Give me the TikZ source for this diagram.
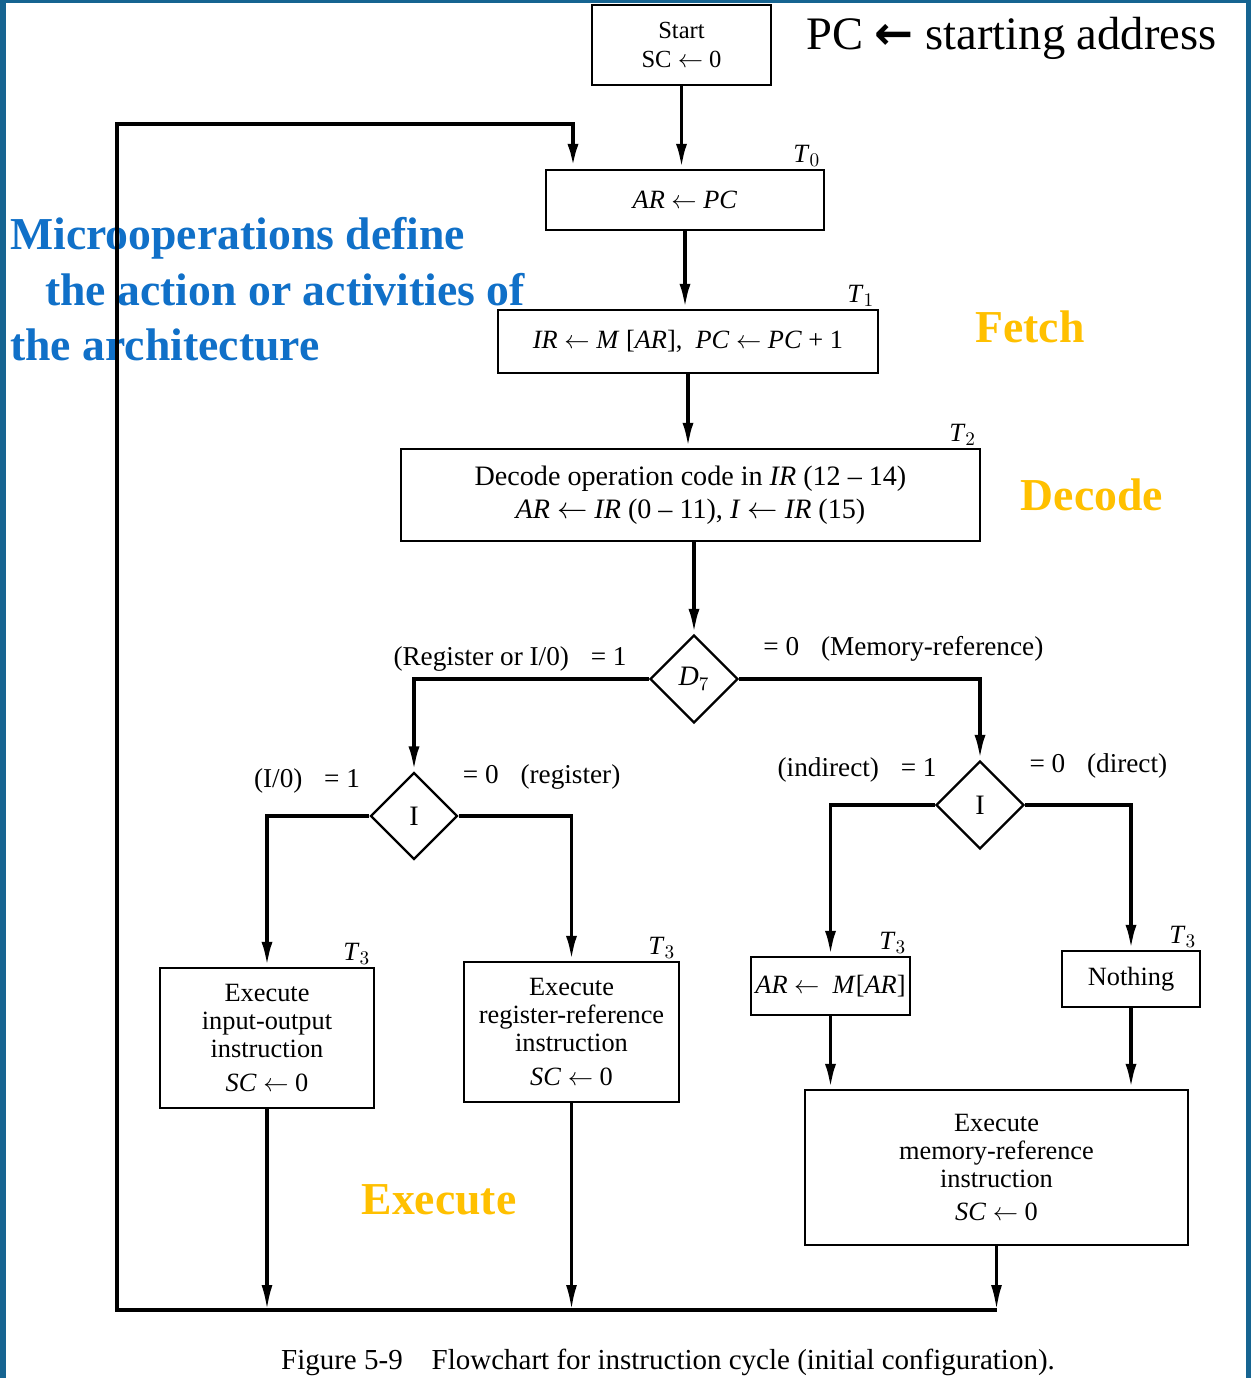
\documentclass[tikz,border=0pt]{standalone}
\usepackage{fontspec}
\setmainfont{Liberation Serif}
\newfontfamily\arrowfont{DejaVu Sans}
\usetikzlibrary{shapes.geometric, arrows.meta}
\definecolor{frameblue}{RGB}{22, 100, 145}
\definecolor{noteblue}{RGB}{16, 112, 200}
\definecolor{phasegold}{RGB}{255, 192, 0}
\newcommand{\asg}{\ensuremath{\leftarrow}}

\begin{document}
\begin{tikzpicture}[x=0.02cm, y=-0.02cm,
  box/.style={rectangle, draw, line width=1.3pt, align=center, inner sep=0pt, font=\fontsize{15}{16}\selectfont},
  decision/.style={diamond, draw, line width=1.3pt, inner sep=0pt, minimum size=1.76cm, font=\fontsize{16}{18}\selectfont},
  tlab/.style={font=\fontsize{15}{16}\selectfont, inner sep=1pt},
  brlab/.style={font=\fontsize{15.5}{18}\selectfont, inner sep=0pt},
  flow/.style={line width=2.2pt, -{Latex[length=0.5cm, width=0.22cm]}},
  phase/.style={font=\fontsize{26}{30}\selectfont\bfseries, text=phasegold, inner sep=0pt}]

% page and frame
\useasboundingbox (0,0) rectangle (1251,1378);
\fill[white] (0,0) rectangle (1251,1378);
\fill[frameblue] (0,0) rectangle (1251,3);
\fill[frameblue] (0,0) rectangle (6,1378);
\fill[frameblue] (1246,0) rectangle (1251,1378);

% notes
\node[anchor=north west, inner sep=0pt, align=left, text=noteblue, font=\fontsize{26}{31.7}\selectfont\bfseries] (note) at (10,217) {Microoperations define\\\hspace*{0.7cm}the action or activities of\\the architecture};
\node[anchor=base west, inner sep=0pt, font=\fontsize{26.5}{30}\selectfont] (pcnote) at (806,50) {PC {\arrowfont\bfseries ←} starting address};
\node[phase] (fetch) at (1030,327) {Fetch};
\node[phase] (decode) at (1092,495) {Decode};
\node[phase] (execute) at (439,1200) {Execute};

% fetch and decode
\node[box, minimum width=3.58cm, minimum height=1.6cm, font=\fontsize{14}{16.5}\selectfont] (start) at (681.5,45) {Start\\SC \asg{} 0};
\node[box, minimum width=5.56cm, minimum height=1.2cm] (pc) at (685,200) {\textit{AR} \asg{} \textit{PC}};
\node[box, minimum width=7.6cm, minimum height=1.26cm] (ir) at (688,341.5) {\textit{IR} \asg{} \textit{M} [\textit{AR}],\ \ \textit{PC} \asg{} \textit{PC} + 1};
\node[box, minimum width=11.58cm, minimum height=1.84cm, font=\fontsize{16}{19}\selectfont] (dec) at (690.5,495) {Decode operation code in \textit{IR} (12 – 14)\\\textit{AR} \asg{} \textit{IR} (0 – 11),\ \textit{I} \asg{} \textit{IR} (15)};

% decisions
\node[decision] (d7) at (694,679) {\textit{D}$_7$};
\node[decision, minimum size=1.74cm] (ireg) at (414,816) {I};
\node[decision] (imem) at (980,805) {I};

% execute
\node[box, minimum width=4.28cm, minimum height=2.8cm] (io) at (267,1038) {Execute\\input-output\\instruction\\[3pt]\textit{SC} \asg{} 0};
\node[box, minimum width=4.3cm, minimum height=2.8cm] (reg) at (571.5,1032) {Execute\\register-reference\\instruction\\[3pt]\textit{SC} \asg{} 0};
\node[box, minimum width=3.18cm, minimum height=1.16cm] (ind) at (830.5,986) {\textit{AR} \asg{}\ \ \textit{M}[\textit{AR}]};
\node[box, minimum width=2.76cm, minimum height=1.12cm] (nothing) at (1131,979) {Nothing};
\node[box, minimum width=7.66cm, minimum height=3.1cm] (mem) at (996.5,1167.5) {Execute\\memory-reference\\instruction\\[3pt]\textit{SC} \asg{} 0};

% timing signals
\foreach \boxname/\tnum/\lname in {pc/0/tzero, ir/1/tone, dec/2/ttwo, io/3/tio, reg/3/treg, ind/3/tind, nothing/3/tnot}
  \node[tlab, anchor=south east] (\lname) at ([xshift=-0.06cm]\boxname.north east) {\textit{T}$_{\tnum}$};

% branch labels
\node[brlab, anchor=south east] (lbliorg) at ([xshift=-0.44cm, yshift=0.14cm]d7.west) {(Register or I/0)\hspace{0.8em}= 1};
\node[brlab, anchor=south west] (lblmem) at ([xshift=0.48cm, yshift=0.34cm]d7.east) {= 0\hspace{0.8em}(Memory-reference)};
\node[brlab, anchor=south east] (lblio) at ([xshift=-0.18cm, yshift=0.44cm]ireg.west) {(I/0)\hspace{0.8em}= 1};
\node[brlab, anchor=south west] (lblreg) at ([xshift=0.08cm, yshift=0.52cm]ireg.east) {= 0\hspace{0.8em}(register)};
\node[brlab, anchor=south east] (lblind) at ([xshift=0.04cm, yshift=0.44cm]imem.west) {(indirect)\hspace{0.8em}= 1};
\node[brlab, anchor=south west] (lbldir) at ([xshift=0.08cm, yshift=0.52cm]imem.east) {= 0\hspace{0.8em}(direct)};

% connectors
\draw[flow] (start.south) -- (start.south |- pc.north);
\draw[flow] (pc.south) -- (pc.south |- ir.north);
\draw[flow] (ir.south) -- (ir.south |- dec.north);
\draw[flow] (d7.north |- dec.south) -- (d7.north);
\draw[flow] (d7.west) -| (ireg.north);
\draw[flow] (d7.east) -| (imem.north);
\draw[flow] (ireg.west) -| (io.north);
\draw[flow] (ireg.east) -| (reg.north);
\draw[flow] (imem.west) -| (ind.north);
\draw[flow] (imem.east) -| (nothing.north);
\draw[flow] (ind.south) -- (ind.south |- mem.north);
\draw[flow] (nothing.south) -- (nothing.south |- mem.north);

% back to fetch
\coordinate (retcorner) at (117,1310);
\coordinate (rettop) at (117,124);
\coordinate (pcin) at (573,124);
\draw[flow, line width=1.8pt] (io.south) -- (io.south |- retcorner);
\draw[flow, line width=1.8pt] (reg.south) -- (reg.south |- retcorner);
\draw[flow, line width=1.8pt] (mem.south) -- (mem.south |- retcorner);
\draw[flow, line width=2.5pt] (mem.south |- retcorner) -- (retcorner) -- (rettop) -- (pcin) -- (pcin |- pc.north);

\node[font=\fontsize{16.5}{18}\selectfont, inner sep=0pt] (caption) at (668,1362) {Figure 5-9\quad Flowchart for instruction cycle (initial configuration).};
\end{tikzpicture}
\end{document}
